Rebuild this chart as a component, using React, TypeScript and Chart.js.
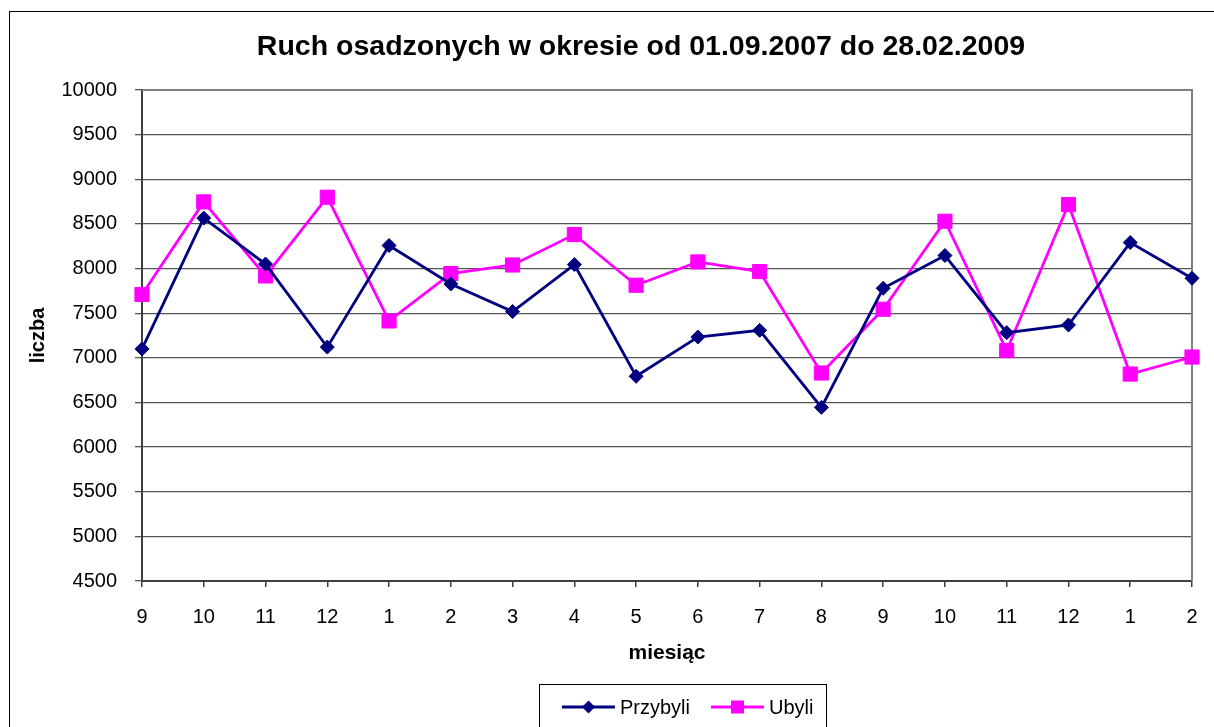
import { useEffect, useRef } from 'react';
import { Chart, registerables } from 'chart.js';

Chart.register(...registerables);

const months = ['9', '10', '11', '12', '1', '2', '3', '4', '5', '6', '7', '8', '9', '10', '11', '12', '1', '2'];
const przybyli = [7100, 8565, 8050, 7120, 8258, 7827, 7518, 8045, 6793, 7233, 7308, 6445, 7779, 8146, 7282, 7368, 8291, 7891];
const ubyli = [7710, 8747, 7917, 8799, 7413, 7944, 8040, 8381, 7813, 8074, 7966, 6830, 7544, 8530, 7081, 8717, 6818, 7009];
const seriesNames = ['Przybyli', 'Ubyli'];
const titleText = 'Ruch osadzonych w okresie od 01.09.2007 do 28.02.2009';
const xTitle = 'miesiąc';
const yTitle = 'liczba';
const yMin = 4500;
const yMax = 10000;
const yStep = 500;

const FONT = "'Liberation Sans', Arial, Helvetica, sans-serif";
const NAVY = '#000080';
const MAGENTA = '#FF00FF';

const decor = {
  id: 'decor',
  beforeDraw(chart: any) {
    const ctx = chart.ctx;
    ctx.save();
    ctx.fillStyle = '#ffffff';
    ctx.fillRect(0, 0, chart.width, chart.height);
    ctx.strokeStyle = '#000000';
    ctx.lineWidth = 1;
    ctx.strokeRect(9.5, 11.5, 1400, 900);
    ctx.restore();
  },
  beforeDatasetsDraw(chart: any) {
    const ctx = chart.ctx;
    const { left, right, top, bottom } = chart.chartArea;
    ctx.save();
    ctx.strokeStyle = '#808080';
    ctx.lineWidth = 2;
    ctx.beginPath();
    ctx.moveTo(left, top);
    ctx.lineTo(right, top);
    ctx.lineTo(right, bottom);
    ctx.stroke();
    ctx.restore();
  },
  afterDraw(chart: any) {
    const ctx = chart.ctx;
    ctx.save();
    // title
    ctx.fillStyle = '#000';
    ctx.font = `bold 28.5px ${FONT}`;
    ctx.textAlign = 'center';
    ctx.textBaseline = 'middle';
    ctx.fillText(titleText, 641, 47);

    // legend
    ctx.strokeStyle = '#000';
    ctx.lineWidth = 1;
    ctx.strokeRect(539.5, 684.5, 287, 100);
    ctx.font = `20px ${FONT}`;
    ctx.textAlign = 'left';
    let x = 562;
    const y = 707;
    chart.data.datasets.forEach((ds: any, i: number) => {
      const c = ds.borderColor;
      ctx.strokeStyle = c;
      ctx.lineWidth = 2.8;
      ctx.beginPath();
      ctx.moveTo(x, y);
      ctx.lineTo(x + 53, y);
      ctx.stroke();
      ctx.fillStyle = c;
      const cx = x + 26.5;
      ctx.beginPath();
      if (ds.pointStyle === 'rectRot') {
        ctx.moveTo(cx, y - 6.5);
        ctx.lineTo(cx + 6.5, y);
        ctx.lineTo(cx, y + 6.5);
        ctx.lineTo(cx - 6.5, y);
        ctx.closePath();
      } else {
        ctx.rect(cx - 6.5, y - 6.5, 13, 13);
      }
      ctx.fill();
      ctx.fillStyle = '#000';
      ctx.fillText(seriesNames[i], x + 58, y + 1);
      x = x + 58 + ctx.measureText(seriesNames[i]).width + 21;
    });
    ctx.restore();
  },
};

export default function App() {
  const ref = useRef<HTMLCanvasElement | null>(null);

  useEffect(() => {
    if (!ref.current) return;
    const chart = new Chart(ref.current, {
      type: 'line',
      data: {
        labels: months,
        datasets: [
          {
            label: seriesNames[0],
            data: przybyli,
            borderColor: NAVY,
            backgroundColor: NAVY,
            borderWidth: 2.8,
            pointStyle: 'rectRot',
            pointRadius: 7,
            pointBorderWidth: 1,
            pointBackgroundColor: NAVY,
            pointBorderColor: NAVY,
            tension: 0,
            clip: false,
          } as any,
          {
            label: seriesNames[1],
            data: ubyli,
            borderColor: MAGENTA,
            backgroundColor: MAGENTA,
            borderWidth: 2.8,
            pointStyle: 'rect',
            pointRadius: 10,
            pointBorderWidth: 1,
            pointBackgroundColor: MAGENTA,
            pointBorderColor: MAGENTA,
            tension: 0,
            clip: false,
          } as any,
        ],
      },
      options: {
        responsive: false,
        animation: false,
        layout: { autoPadding: false, padding: { left: 0, top: 90, right: 22, bottom: 0 } },
        plugins: {
          legend: { display: false },
          title: { display: false },
          tooltip: { enabled: false },
        },
        scales: {
          x: {
            type: 'category',
            offset: false,
            grid: {
              display: true,
              drawOnChartArea: false,
              drawTicks: true,
              tickLength: 6,
              color: '#404040',
              lineWidth: 1.5,
            },
            border: { display: true, color: '#404040', width: 2 },
            ticks: {
              color: '#000',
              font: { family: FONT, size: 20 },
              padding: 18,
              maxRotation: 0,
              autoSkip: false,
            },
            title: {
              display: true,
              text: xTitle,
              color: '#000',
              font: { family: FONT, size: 21, weight: 'bold' },
              padding: { top: 0, bottom: 61 },
            },
            afterFit(scale: any) {
              scale.height = 146;
              scale.paddingLeft = 0;
              scale.paddingRight = 0;
            },
          },
          y: {
            min: yMin,
            max: yMax,
            ticks: {
              stepSize: yStep,
              color: '#000',
              font: { family: FONT, size: 20 },
              padding: 18,
              callback: (v: any) => String(v),
            },
            grid: { color: '#555555', lineWidth: 1.3, tickLength: 7 },
            border: { display: true, color: '#404040', width: 2 },
            title: {
              display: true,
              text: yTitle,
              color: '#000',
              font: { family: FONT, size: 20, weight: 'bold' },
              padding: { top: 26, bottom: 0 },
            },
            afterFit(scale: any) {
              scale.width = 142;
            },
          },
        },
      } as any,
      plugins: [decor],
    });
    return () => chart.destroy();
  }, []);

  return (
    <canvas
      ref={ref}
      width={1214}
      height={727}
      style={{ position: 'fixed', left: 0, top: 0, width: 1214, height: 727 }}
    />
  );
}
